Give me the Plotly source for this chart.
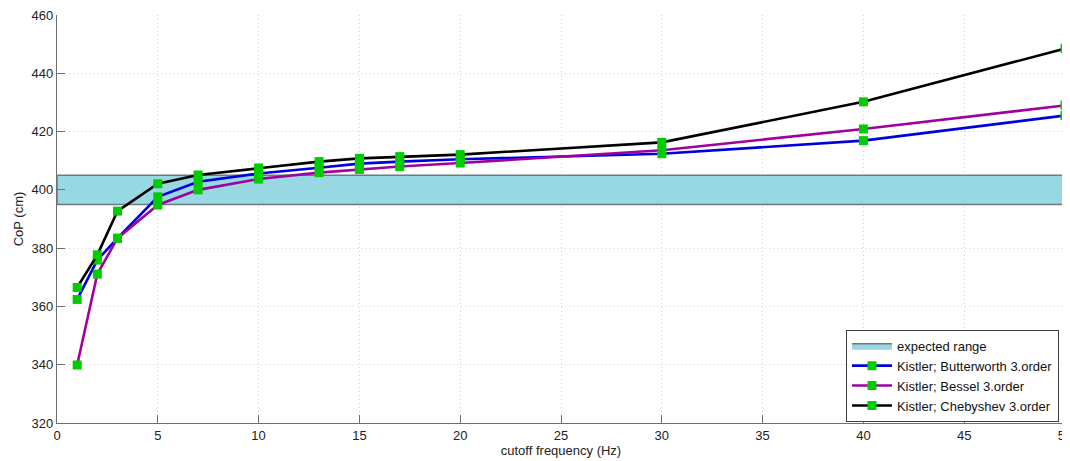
import plotly.graph_objects as go

# ---- data ----
cutoff_hz = [1, 2, 3, 5, 7, 10, 13, 15, 17, 20, 30, 40, 50]
butterworth = [362.4, 375.9, 383.4, 397.6, 402.8, 405.6, 407.6, 409.0, 409.7, 410.5, 412.4, 416.9, 425.5]
bessel = [339.9, 371.1, 383.4, 394.8, 400.0, 403.7, 405.9, 407.0, 408.0, 409.2, 413.6, 420.9, 429.0]
chebyshev = [366.5, 377.7, 392.7, 402.1, 405.1, 407.5, 409.7, 410.8, 411.4, 412.1, 416.3, 430.2, 448.5]
expected_low = 395
expected_high = 405
x_range = [0, 50]
y_range = [320, 460]

series = [
    ("Kistler; Butterworth 3.order", butterworth, "#0000dd"),
    ("Kistler; Bessel 3.order", bessel, "#a0009e"),
    ("Kistler; Chebyshev 3.order", chebyshev, "#000000"),
]

fig = go.Figure()

fig.add_trace(go.Scatter(
    x=[x_range[0], x_range[1], x_range[1], x_range[0], x_range[0]],
    y=[expected_low, expected_low, expected_high, expected_high, expected_low],
    mode="lines", fill="toself", fillcolor="#98d8e2",
    line=dict(color="#6f7a7c", width=1.5),
    name="expected range", hoverinfo="skip",
))

for name, vals, color in series:
    fig.add_trace(go.Scatter(
        x=cutoff_hz, y=vals, mode="lines+markers", name=name,
        line=dict(color=color, width=2.6),
        marker=dict(symbol="square", size=9, color="#00cc00",
                    line=dict(color="#00cc00", width=0)),
        cliponaxis=False,
    ))

font = "Liberation Sans, Arial, sans-serif"
axis_common = dict(
    showgrid=True, gridcolor="#d4d4d4", griddash="1px,3px", gridwidth=1,
    showline=True, linecolor="#707070", linewidth=1.2,
    ticks="inside", ticklen=8, tickcolor="#707070", tickwidth=1.2,
    zeroline=False, tickfont=dict(size=13, color="#222"),
    mirror=False, automargin=False, ticklabeloverflow="allow",
)

# The page body has an 8px default margin, so the figure is offset by 8px.
fig.update_layout(
    width=1062, height=453,
    margin=dict(l=49, r=5, t=7, b=38),
    paper_bgcolor="white", plot_bgcolor="white",
    font=dict(family=font, size=13, color="#222"),
    xaxis=dict(range=x_range, dtick=5, tick0=0,
               title=dict(text="cutoff frequency (Hz)", standoff=2, font=dict(size=13)),
               **axis_common),
    yaxis=dict(range=y_range, dtick=20, tick0=320,
               title=dict(text="CoP (cm)", standoff=5, font=dict(size=13)),
               **axis_common),
    legend=dict(x=0.994, y=0.003, xanchor="right", yanchor="bottom",
                bgcolor="white", bordercolor="#404040", borderwidth=1,
                font=dict(size=13, color="#111"), itemwidth=40,
                tracegroupgap=0),
    showlegend=True,
)

fig.write_html("out.html")
